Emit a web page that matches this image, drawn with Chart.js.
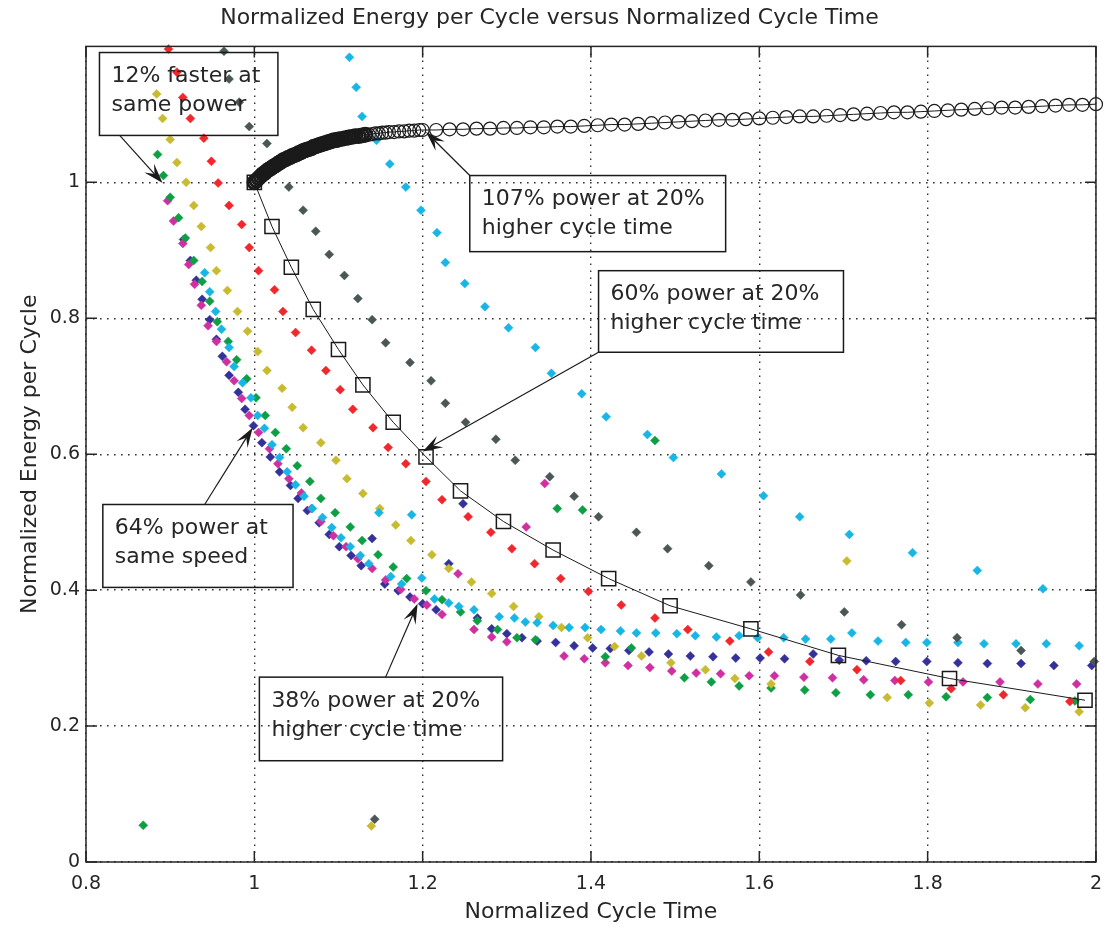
<!DOCTYPE html>
<html lang="en">
<head>
  <meta charset="UTF-8" />
  <title>Normalized Energy per Cycle</title>
  <script src="https://cdn.jsdelivr.net/npm/chart.js"></script>
  <style>
    *{margin:0;padding:0;box-sizing:border-box}
    body{background:#fff;width:1113px;height:928px;overflow:hidden}
    #chart{display:block}
  </style>
</head>
<body>
  <canvas id="chart" width="1113" height="928"></canvas>

  <script>
    // axis ticks
    const xTicks = [0.8, 1, 1.2, 1.4, 1.6, 1.8, 2];
    const yTicks = [0, 0.2, 0.4, 0.6, 0.8, 1];

    // scatter series, [cycle time, energy]
    const red = [[0.898,1.196],[0.908,1.162],[0.915,1.125],[0.924,1.094],[0.940,1.065],[0.949,1.031],[0.957,0.999],[0.970,0.966],[0.985,0.938],[0.994,0.904],[1.005,0.870],[1.024,0.842],[1.034,0.810],[1.049,0.779],[1.068,0.753],[1.085,0.723],[1.102,0.695],[1.117,0.666],[1.141,0.639],[1.159,0.610],[1.180,0.586],[1.204,0.560],[1.223,0.533],[1.254,0.508],[1.281,0.485],[1.306,0.461],[1.333,0.439],[1.364,0.417],[1.397,0.398],[1.436,0.378],[1.476,0.359],[1.515,0.342],[1.565,0.325],[1.611,0.309],[1.660,0.295],[1.716,0.283],[1.768,0.267],[1.828,0.255],[1.890,0.246],[1.969,0.236]];
    const gray = [[0.964,1.193],[0.970,1.152],[0.982,1.118],[0.994,1.082],[1.015,1.057],[1.041,0.993],[1.058,0.959],[1.073,0.928],[1.089,0.894],[1.107,0.863],[1.123,0.829],[1.140,0.798],[1.156,0.764],[1.185,0.735],[1.210,0.708],[1.227,0.675],[1.251,0.647],[1.287,0.622],[1.310,0.591],[1.351,0.567],[1.380,0.538],[1.409,0.508],[1.454,0.485],[1.491,0.461],[1.540,0.436],[1.590,0.412],[1.649,0.393],[1.701,0.368],[1.769,0.349],[1.835,0.330],[1.911,0.311],[1.998,0.295],[1.143,0.063]];
    const cyan = [[1.113,1.184],[1.121,1.140],[1.128,1.097],[1.145,1.062],[1.161,1.027],[1.180,0.993],[1.198,0.959],[1.217,0.926],[1.227,0.882],[1.250,0.851],[1.274,0.817],[1.302,0.786],[1.334,0.757],[1.353,0.719],[1.389,0.689],[1.418,0.655],[1.467,0.629],[1.498,0.595],[1.555,0.571],[1.605,0.539],[1.648,0.508],[1.707,0.482],[1.782,0.455],[1.859,0.429],[1.937,0.402],
      [0.941,0.867],[0.947,0.839],[0.954,0.810],[0.961,0.784],[0.970,0.757],[0.976,0.729],[0.986,0.705],[0.996,0.683],[1.004,0.657],[1.012,0.638],[1.021,0.614],[1.030,0.595],[1.039,0.574],[1.049,0.555],[1.059,0.538],[1.069,0.520],[1.081,0.507],[1.092,0.492],[1.103,0.477],[1.114,0.464],[1.126,0.451],[1.136,0.439],[1.162,0.420],[1.175,0.409],[1.199,0.418],[1.214,0.387],[1.231,0.381],[1.243,0.376],[1.261,0.371],[1.291,0.361],[1.309,0.359],[1.322,0.353],[1.336,0.352],[1.355,0.348],[1.374,0.345],[1.393,0.345],[1.412,0.342],[1.435,0.340],[1.454,0.337],[1.477,0.337],[1.502,0.336],[1.524,0.333],[1.549,0.331],[1.576,0.333],[1.598,0.330],[1.629,0.330],[1.655,0.328],[1.685,0.328],[1.710,0.337],[1.741,0.325],[1.774,0.323],[1.799,0.323],[1.836,0.323],[1.867,0.321],[1.905,0.321],[1.941,0.321],[1.980,0.318],[1.148,0.514],[1.187,0.511]];
    const yellow = [[0.884,1.130],[0.891,1.094],[0.900,1.063],[0.908,1.029],[0.919,1.000],[0.928,0.966],[0.937,0.935],[0.948,0.904],[0.955,0.870],[0.968,0.841],[0.980,0.810],[0.992,0.781],[1.004,0.751],[1.015,0.723],[1.033,0.697],[1.045,0.669],[1.058,0.639],[1.079,0.617],[1.097,0.591],[1.110,0.564],[1.129,0.542],[1.149,0.520],[1.168,0.496],[1.186,0.473],[1.211,0.452],[1.231,0.432],[1.258,0.412],[1.282,0.395],[1.308,0.376],[1.338,0.361],[1.365,0.345],[1.396,0.330],[1.428,0.317],[1.460,0.303],[1.495,0.293],[1.536,0.283],[1.571,0.270],[1.614,0.262],[1.752,0.242],[1.802,0.234],[1.863,0.231],[1.916,0.227],[1.980,0.221],[1.704,0.443],[1.139,0.053]];
    const green = [[0.885,1.041],[0.892,1.010],[0.900,0.978],[0.910,0.948],[0.918,0.918],[0.928,0.885],[0.938,0.854],[0.947,0.825],[0.956,0.795],[0.969,0.766],[0.979,0.739],[0.991,0.711],[1.002,0.683],[1.013,0.657],[1.025,0.632],[1.038,0.608],[1.051,0.583],[1.066,0.560],[1.079,0.535],[1.096,0.514],[1.114,0.493],[1.128,0.473],[1.147,0.452],[1.165,0.434],[1.181,0.417],[1.204,0.399],[1.223,0.386],[1.245,0.368],[1.265,0.355],[1.289,0.342],[1.312,0.330],[1.334,0.327],[1.417,0.302],[1.448,0.315],[1.511,0.271],[1.543,0.265],[1.576,0.259],[1.614,0.256],[1.654,0.253],[1.691,0.249],[1.732,0.246],[1.777,0.246],[1.822,0.243],[1.871,0.242],[1.922,0.239],[1.975,0.237],[1.360,0.520],[1.390,0.518],[1.476,0.620],[0.868,0.054]];
    const magenta = [[0.897,0.973],[0.904,0.943],[0.915,0.910],[0.922,0.879],[0.929,0.850],[0.937,0.819],[0.945,0.789],[0.955,0.766],[0.967,0.736],[0.976,0.708],[0.985,0.682],[0.994,0.657],[1.005,0.632],[1.018,0.608],[1.028,0.586],[1.041,0.564],[1.056,0.543],[1.068,0.520],[1.079,0.501],[1.094,0.480],[1.109,0.464],[1.123,0.446],[1.140,0.432],[1.156,0.415],[1.174,0.401],[1.190,0.387],[1.205,0.378],[1.223,0.364],[1.261,0.342],[1.282,0.331],[1.300,0.324],[1.368,0.303],[1.392,0.299],[1.417,0.293],[1.444,0.289],[1.470,0.286],[1.496,0.281],[1.525,0.278],[1.554,0.277],[1.588,0.274],[1.618,0.274],[1.653,0.272],[1.687,0.271],[1.724,0.268],[1.761,0.267],[1.801,0.265],[1.842,0.265],[1.886,0.265],[1.931,0.262],[1.977,0.262],[1.242,0.424],[1.345,0.557],[1.323,0.493]];
    const blue = [[0.916,0.916],[0.924,0.885],[0.931,0.856],[0.938,0.828],[0.947,0.798],[0.955,0.769],[0.962,0.744],[0.970,0.716],[0.981,0.691],[0.989,0.666],[0.999,0.642],[1.009,0.617],[1.019,0.596],[1.030,0.574],[1.043,0.554],[1.052,0.535],[1.063,0.517],[1.077,0.499],[1.089,0.482],[1.101,0.464],[1.115,0.451],[1.127,0.436],[1.155,0.409],[1.171,0.399],[1.185,0.390],[1.200,0.380],[1.216,0.371],[1.265,0.359],[1.282,0.343],[1.300,0.336],[1.318,0.330],[1.336,0.325],[1.358,0.323],[1.380,0.318],[1.402,0.315],[1.423,0.314],[1.445,0.311],[1.469,0.309],[1.492,0.306],[1.518,0.303],[1.545,0.302],[1.572,0.300],[1.601,0.300],[1.630,0.299],[1.664,0.306],[1.695,0.297],[1.727,0.296],[1.762,0.295],[1.799,0.295],[1.836,0.293],[1.871,0.292],[1.911,0.292],[1.950,0.289],[1.995,0.289],[1.140,0.476],[1.231,0.439],[1.248,0.527]];

    // black line with squares
    const sqX = [1.000,1.021,1.044,1.070,1.100,1.129,1.165,1.204,1.245,1.296,1.355,1.421,1.494,1.590,1.694,1.826,1.987];
    const sqY = [1.000,0.935,0.875,0.813,0.754,0.702,0.647,0.596,0.546,0.501,0.459,0.417,0.377,0.343,0.304,0.270,0.238];

    // black line with circles
    const circX = [1.0000,1.0025,1.0050,1.0075,1.0100,1.0125,1.0150,1.0175,1.0200,1.0225,1.0250,1.0275,1.0300,1.0325,1.0350,1.0375,1.0400,1.0425,1.0450,1.0475,1.0500,1.0525,1.0550,1.0575,1.0600,1.0625,1.0650,1.0675,1.0700,1.0725,1.0750,1.0775,1.0800,1.0825,1.0850,1.0875,1.0900,1.0925,1.0950,1.0975,1.1000,
      1.104,1.108,1.112,1.116,1.120,1.124,1.128,1.132,1.136,1.140,1.144,1.148,1.152,1.156,1.160,1.166,1.172,1.178,1.184,1.190,1.196,
      1.200,1.216,1.232,1.248,1.264,1.280,1.296,1.312,1.328,1.344,1.360,1.376,1.392,1.408,1.424,1.440,1.456,1.472,1.488,1.504,1.520,1.536,1.552,1.568,1.584,1.600,1.616,1.632,1.648,1.664,1.680,1.696,1.712,1.728,1.744,1.760,1.776,1.792,1.808,1.824,1.840,1.856,1.872,1.888,1.904,1.920,1.936,1.952,1.968,1.984,2.000];
    const circY = [1.000,1.003,1.006,1.009,1.012,1.014,1.017,1.019,1.021,1.023,1.025,1.027,1.029,1.031,1.033,1.034,1.036,1.037,1.039,1.040,1.041,1.043,1.044,1.046,1.047,1.048,1.049,1.050,1.052,1.053,1.054,1.055,1.056,1.057,1.058,1.059,1.060,1.061,1.062,1.062,1.063,
      1.064,1.065,1.066,1.067,1.068,1.068,1.069,1.070,1.070,1.071,1.072,1.072,1.073,1.073,1.074,1.074,1.075,1.075,1.076,1.076,1.077,
      1.077,1.077,1.078,1.078,1.079,1.079,1.080,1.080,1.081,1.081,1.082,1.082,1.083,1.084,1.085,1.085,1.086,1.087,1.088,1.089,1.090,1.091,1.092,1.092,1.093,1.094,1.095,1.096,1.097,1.097,1.098,1.099,1.100,1.101,1.102,1.103,1.103,1.104,1.105,1.106,1.107,1.108,1.109,1.110,1.110,1.111,1.112,1.113,1.114,1.114,1.115];

    // text boxes: box = [x0, yTop, x1, yBottom], arrow from -> to (data units)
    const notes = [
      { lines: ['12% faster at', 'same power'], box: [0.816, 1.191, 1.028, 1.069], from: [0.840, 1.069], to: [0.891, 0.999] },
      { lines: ['107% power at 20%', 'higher cycle time'], box: [1.256, 1.010, 1.560, 0.898], from: [1.256, 1.010], to: [1.204, 1.074] },
      { lines: ['60% power at 20%', 'higher cycle time'], box: [1.409, 0.870, 1.700, 0.750], from: [1.409, 0.750], to: [1.200, 0.604] },
      { lines: ['64% power at', 'same speed'], box: [0.820, 0.526, 1.046, 0.404], from: [0.941, 0.526], to: [0.998, 0.639] },
      { lines: ['38% power at 20%', 'higher cycle time'], box: [1.006, 0.272, 1.295, 0.149], from: [1.156, 0.272], to: [1.194, 0.380] }
    ];

    const FONT = "'DejaVu Sans', sans-serif";
    const INK = '#262626';

    const pts = arr => arr.map(([x, y]) => ({ x, y }));
    const zip = (xs, ys) => xs.map((x, i) => ({ x, y: ys[i] }));

    function dots(data, color) {
      return {
        data: pts(data), showLine: false, clip: false, order: 2,
        pointStyle: 'rectRot', pointRadius: 4.5, pointBorderWidth: 0.5,
        pointBackgroundColor: color, pointBorderColor: color
      };
    }

    // box frame + inward ticks, like the original axes
    const frame = {
      id: 'frame',
      afterDatasetsDraw(chart) {
        const { ctx, chartArea: a, scales: { x, y } } = chart;
        ctx.save();
        ctx.strokeStyle = INK;
        ctx.lineWidth = 1.5;
        ctx.strokeRect(a.left, a.top, a.right - a.left, a.bottom - a.top);
        ctx.beginPath();
        xTicks.forEach(v => {
          const px = x.getPixelForValue(v);
          ctx.moveTo(px, a.bottom); ctx.lineTo(px, a.bottom - 11);
          ctx.moveTo(px, a.top); ctx.lineTo(px, a.top + 11);
        });
        yTicks.forEach(v => {
          const py = y.getPixelForValue(v);
          ctx.moveTo(a.left, py); ctx.lineTo(a.left + 11, py);
          ctx.moveTo(a.right, py); ctx.lineTo(a.right - 11, py);
        });
        ctx.stroke();
        ctx.restore();
      }
    };

    function arrow(ctx, x0, y0, x1, y1) {
      const L = 20, W = 13;
      const len = Math.hypot(x1 - x0, y1 - y0);
      const ux = (x1 - x0) / len, uy = (y1 - y0) / len;
      const nx = -uy, ny = ux;
      const bx = x1 - ux * L, by = y1 - uy * L;
      const mx = x1 - ux * L * 0.6, my = y1 - uy * L * 0.6;
      ctx.beginPath();
      ctx.moveTo(x0, y0);
      ctx.lineTo(mx, my);
      ctx.stroke();
      ctx.beginPath();
      ctx.moveTo(x1, y1);
      ctx.lineTo(bx + nx * W / 2, by + ny * W / 2);
      ctx.lineTo(mx, my);
      ctx.lineTo(bx - nx * W / 2, by - ny * W / 2);
      ctx.closePath();
      ctx.fill();
    }

    const callouts = {
      id: 'callouts',
      afterDraw(chart) {
        const { ctx, scales: { x, y } } = chart;
        ctx.save();
        ctx.strokeStyle = '#1a1a1a';
        ctx.fillStyle = '#1a1a1a';
        ctx.lineWidth = 1.2;
        notes.forEach(n => {
          const l = x.getPixelForValue(n.box[0]), t = y.getPixelForValue(n.box[1]);
          const r = x.getPixelForValue(n.box[2]), b = y.getPixelForValue(n.box[3]);
          arrow(ctx, x.getPixelForValue(n.from[0]), y.getPixelForValue(n.from[1]),
                x.getPixelForValue(n.to[0]), y.getPixelForValue(n.to[1]));
          ctx.lineWidth = 1.5;
          ctx.strokeRect(l, t, r - l, b - t);
          ctx.lineWidth = 1.2;
          ctx.font = '22px ' + FONT;
          ctx.textBaseline = 'middle';
          ctx.textAlign = 'left';
          n.lines.forEach((s, i) => {
            ctx.fillStyle = INK;
            ctx.fillText(s, l + 12, t + 24 + i * 29);
          });
          ctx.fillStyle = '#1a1a1a';
        });
        ctx.restore();
      }
    };

    new Chart(document.getElementById('chart'), {
      type: 'scatter',
      data: {
        datasets: [
          {
            data: zip(circX, circY), showLine: true, clip: false, order: 0,
            borderColor: '#1a1a1a', borderWidth: 1, pointStyle: 'circle', pointRadius: 6.5,
            // the crowded start of the curve prints as a solid black band
            pointBorderWidth: c => (c.raw && c.raw.x < 1.135 ? 2.8 : 1.2),
            pointBorderColor: '#1a1a1a', pointBackgroundColor: 'rgba(0,0,0,0)'
          },
          {
            data: zip(sqX, sqY), showLine: true, clip: false, order: 1,
            borderColor: '#1a1a1a', borderWidth: 1, pointStyle: 'rect', pointRadius: 10,
            pointBorderWidth: 1.5, pointBorderColor: '#1a1a1a', pointBackgroundColor: 'rgba(0,0,0,0)'
          },
          dots(red, '#f0282d'),
          dots(gray, '#4b5757'),
          dots(cyan, '#17b6e4'),
          dots(yellow, '#c9bb2f'),
          dots(green, '#0e9f45'),
          dots(magenta, '#cf2fa0'),
          dots(blue, '#34319a')
        ]
      },
      options: {
        responsive: false,
        animation: false,
        events: [],
        layout: { padding: { left: 0, right: 14, top: 0, bottom: 0 } },
        plugins: {
          legend: { display: false },
          tooltip: { enabled: false },
          title: {
            display: true,
            text: 'Normalized Energy per Cycle versus Normalized Cycle Time',
            color: INK,
            font: { family: FONT, size: 22, weight: 'normal' },
            padding: { top: 5, bottom: 15 }
          }
        },
        scales: {
          x: {
            type: 'linear', min: 0.8, max: 2,
            afterBuildTicks: s => { s.ticks = xTicks.map(v => ({ value: v })); },
            afterFit: s => { s.height = 66; },
            grid: { color: '#333', lineWidth: 1.4, drawTicks: false },
            border: { display: false, dash: [1.6, 5.4] },
            ticks: { color: INK, padding: 11, font: { family: FONT, size: 19 }, callback: v => String(+v.toFixed(1)) },
            title: { display: true, text: 'Normalized Cycle Time', color: INK, font: { family: FONT, size: 22 }, padding: { top: 0, bottom: 3 } }
          },
          y: {
            type: 'linear', min: 0, max: 1.2,
            afterBuildTicks: s => { s.ticks = yTicks.map(v => ({ value: v })); },
            afterFit: s => { s.width = 86; },
            grid: { color: '#333', lineWidth: 1.4, drawTicks: false },
            border: { display: false, dash: [1.6, 5.4] },
            ticks: { color: INK, padding: 6, font: { family: FONT, size: 19 }, callback: v => String(+v.toFixed(1)) },
            title: { display: true, text: 'Normalized Energy per Cycle', color: INK, font: { family: FONT, size: 22 }, padding: { top: 17, bottom: 0 } }
          }
        }
      },
      plugins: [frame, callouts]
    });
  </script>
</body>
</html>
